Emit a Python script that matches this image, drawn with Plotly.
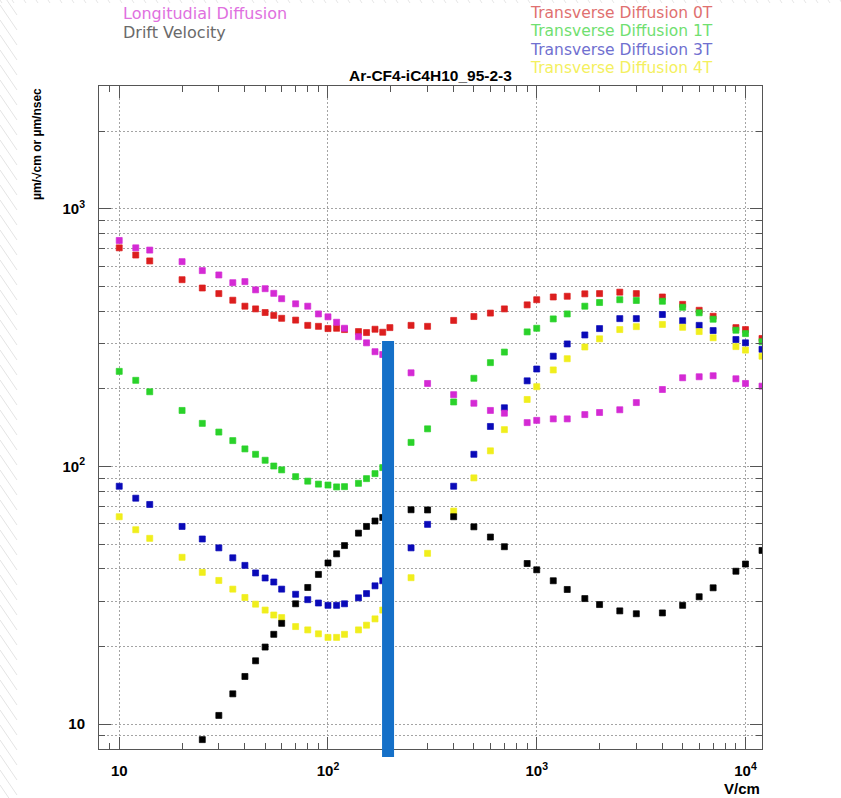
import math
import plotly.graph_objects as go

# ---------------- data ----------------
E_field = [10, 12, 14, 20, 25, 30, 35, 40, 45, 50, 55, 60, 70, 80, 90, 100, 110, 120,
           140, 153, 168, 183, 198, 250, 300, 400, 500, 600, 700, 900, 1000, 1200, 1400,
           1700, 2000, 2500, 3000, 4000, 5000, 6000, 7000, 9000, 10000, 12000]

long_diff = [754, 706, 692, 624, 576, 554, 517, 522, 485, 490, 470, 448, 428, 419, 391, 381,
             363, 344, 319, 302, 279, 272, 262, 231, 210, 190, 176, 165, 161, 148, 151, 153,
             153, 159, 162, 166, 177, 199, 221, 223, 225, 219, 210, 205]

trans_0T = [706, 662, 628, 531, 493, 469, 442, 419, 409, 396, 386, 376, 370, 353, 350, 343,
            344, 340, 334, 331, 341, 332, 346, 353, 350, 369, 382, 394, 409, 424, 444, 455,
            458, 468, 469, 475, 469, 455, 426, 404, 383, 346, 340, 314]

trans_1T = [234, 216, 195, 165, 147, 136, 126, 117, 111.5, 105.7, 100.4, 97, 91.3, 87.7, 85.4,
            84.7, 83.3, 83.5, 86.0, 89.7, 93.8, 99, 102, 124, 140, 178, 220, 253, 278, 333,
            344, 374, 391, 419, 433, 444, 441, 438, 415, 395, 373, 338, 328, 305]

trans_3T = [83.8, 75.3, 71.2, 58.5, 52.3, 48.3, 44.2, 41.3, 38.6, 36.9, 35.6, 33.4, 31.9, 30.4,
            29.5, 28.9, 28.9, 29.3, 30.9, 32.1, 34.4, 36.0, 38.4, 48.3, 59.6, 83.8, 111.5, 143,
            169, 215, 239, 268, 299, 324, 343, 375, 375, 389, 368, 353, 337, 311, 302, 285]

trans_4T = [63.8, 56.8, 52.6, 44.4, 38.8, 36.1, 33.4, 31.0, 29.2, 27.7, 26.5, 25.9, 23.9, 23.2,
            22.4, 21.7, 21.7, 22.3, 23.2, 24.2, 25.6, 27.7, 29.4, 37.0, 46.0, 67.1, 90.3, 115,
            139, 182, 204, 237, 262, 291, 313, 340, 349, 356, 347, 334, 316, 292, 283, 268]

drift_E = E_field[4:]
drift_vel = [8.7, 10.8, 13.1, 15.3, 17.6, 19.9, 22.3, 24.6, 29.3, 33.9, 38.1, 42.2, 45.8, 49.3,
             55.1, 58.5, 61.4, 63.4, 64.6, 67.9, 67.8, 63.8, 58.3, 53.2, 48.8, 42.0, 39.7, 36.0,
             33.3, 30.7, 29.1, 27.5, 26.8, 27.0, 28.9, 31.2, 33.8, 39.2, 41.8, 47.2]

x_tick_vals = [10, 100, 1000, 10000]
x_tick_text = ["<b>10</b>", "<b>10<sup>2</sup></b>", "<b>10<sup>3</sup></b>", "<b>10<sup>4</sup></b>"]
y_tick_vals = [10, 100, 1000]
y_tick_text = ["<b>10</b>", "<b>10<sup>2</sup></b>", "<b>10<sup>3</sup></b>"]

marker_line_E = 194      # V/cm, position of the blue highlight bar
marker_line_top = 307    # top of the highlight bar (axis units)

X_RANGE = [8, 12000]
Y_RANGE = [8, 3000]

# ---------------- figure ----------------
W, H = 841, 798
ML, MR, MT, MB = 99, 79, 86, 49
PW, PH = W - ML - MR, H - MT - MB

series = [
    ("Transverse Diffusion 0T", trans_0T, E_field, "#dc1e1e"),
    ("Transverse Diffusion 1T", trans_1T, E_field, "#2ad22a"),
    ("Transverse Diffusion 3T", trans_3T, E_field, "#0a0ab8"),
    ("Transverse Diffusion 4T", trans_4T, E_field, "#f0ee1c"),
    ("Longitudial Diffusion", long_diff, E_field, "#d42ad4"),
    ("Drift Velocity", drift_vel, drift_E, "#000000"),
]

fig = go.Figure()
for name, ys, xs, col in series:
    fig.add_trace(go.Scatter(x=xs, y=ys, mode="markers", name=name,
                             marker=dict(symbol="square", size=6, color=col,
                                         line=dict(width=0.7, color=col)),
                             showlegend=False))

def minor_vals(lo, hi):
    out = []
    d = 1
    while d <= hi:
        for k in range(2, 10):
            v = k * d
            if lo <= v <= hi:
                out.append(v)
        d *= 10
    return out

GRID = "#a4a4a4"
DASH = "2px,2px"
axis_common = dict(type="log", ticks="inside", ticklen=12, tickwidth=1, tickcolor="#555555",
                   showline=True, linecolor="#555555", linewidth=1, mirror="allticks",
                   showgrid=True, gridcolor=GRID, griddash=DASH, gridwidth=1,
                   zeroline=False, tickmode="array",
                   tickfont=dict(family="Liberation Sans, Arial, sans-serif", size=15, color="black"))

fig.update_xaxes(range=[math.log10(X_RANGE[0]), math.log10(X_RANGE[1])],
                 tickvals=x_tick_vals, ticktext=x_tick_text, ticklabelstandoff=8,
                 minor=dict(ticks="inside", ticklen=6, tickcolor="#555555",
                            tickvals=minor_vals(*X_RANGE), showgrid=False),
                 **axis_common)
fig.update_yaxes(range=[math.log10(Y_RANGE[0]), math.log10(Y_RANGE[1])],
                 tickvals=y_tick_vals, ticktext=y_tick_text, ticklabelstandoff=10,
                 minor=dict(ticks="inside", ticklen=6, tickcolor="#555555",
                            tickvals=minor_vals(*Y_RANGE), showgrid=True,
                            gridcolor=GRID, griddash=DASH, gridwidth=1),
                 **axis_common)

# highlight bar in paper coordinates computed from its axis values
def xpaper(v):
    return (math.log10(v) - math.log10(X_RANGE[0])) / (math.log10(X_RANGE[1]) - math.log10(X_RANGE[0]))

def ypaper(v):
    return (math.log10(v) - math.log10(Y_RANGE[0])) / (math.log10(Y_RANGE[1]) - math.log10(Y_RANGE[0]))

bx = xpaper(marker_line_E)
half_w = 6 / PW
shapes = [dict(type="rect", xref="paper", yref="paper",
               x0=bx - half_w, x1=bx + half_w, y0=-8 / PH, y1=ypaper(marker_line_top),
               fillcolor="#1570c8", line=dict(width=0), layer="above")]

# faint hatched page background on the left strip
def px2p(px, py):
    return (px - ML) / PW, (H - MB - py) / PH

y0 = -40
while y0 < H + 10:
    a = px2p(0, y0)
    b = px2p(17, y0 + 25)
    shapes.append(dict(type="line", xref="paper", yref="paper", x0=a[0], y0=a[1], x1=b[0], y1=b[1],
                       line=dict(color="#e4e4e4", width=1), layer="below"))
    y0 += 15
xx = 0
while xx < W:
    a = px2p(xx, 0)
    b = px2p(xx + 2, 3)
    shapes.append(dict(type="line", xref="paper", yref="paper", x0=a[0], y0=a[1], x1=b[0], y1=b[1],
                       line=dict(color="#e6e6e6", width=1), layer="below"))
    xx += 12

annotations = []
# legend-like coloured texts
legend_font = "DejaVu Sans, Verdana, sans-serif"
left_items = [("Longitudial Diffusion", "#e070e0", 13.5), ("Drift Velocity", "#6a6a6a", 32.5)]
right_items = [("Transverse Diffusion 0T", "#e07070", 13), ("Transverse Diffusion 1T", "#70e070", 31.3),
               ("Transverse Diffusion 3T", "#7070d0", 49.6), ("Transverse Diffusion 4T", "#f4f060", 68)]
for txt, col, py in left_items:
    x, y = px2p(121, py)
    annotations.append(dict(text=txt, x=x, y=y, xref="paper", yref="paper", xanchor="left",
                            yanchor="middle", showarrow=False,
                            font=dict(family=legend_font, size=16, color=col)))
for txt, col, py in right_items:
    x, y = px2p(528, py)
    annotations.append(dict(text=txt, x=x, y=y, xref="paper", yref="paper", xanchor="left",
                            yanchor="middle", showarrow=False,
                            font=dict(family=legend_font, size=15.5, color=col)))

# title
x, y = px2p(430.5, 75)
annotations.append(dict(text="<b>Ar-CF4-iC4H10_95-2-3</b>", x=0.5, y=y, xref="paper", yref="paper",
                        xanchor="center", yanchor="middle", showarrow=False,
                        font=dict(family="Liberation Sans, Arial, sans-serif", size=15.5, color="black")))
# y-axis title
x, y = px2p(37, 86)
annotations.append(dict(text="<b>µm/√cm or µm/nsec</b>", x=x, y=1.0, xref="paper", yref="paper",
                        xanchor="center", yanchor="top", textangle=-90, showarrow=False,
                        font=dict(family="Liberation Sans, Arial, sans-serif", size=12, color="black")))
# x-axis title
x, y = px2p(762, 788)
annotations.append(dict(text="<b>V/cm</b>", x=1.0, y=y, xref="paper", yref="paper",
                        xanchor="right", yanchor="middle", showarrow=False,
                        font=dict(family="Liberation Sans, Arial, sans-serif", size=15, color="black")))

fig.update_layout(width=W, height=H, margin=dict(l=ML, r=MR, t=MT, b=MB, pad=0),
                  paper_bgcolor="white", plot_bgcolor="white", showlegend=False,
                  shapes=shapes, annotations=annotations)

fig.write_html("out.html")
